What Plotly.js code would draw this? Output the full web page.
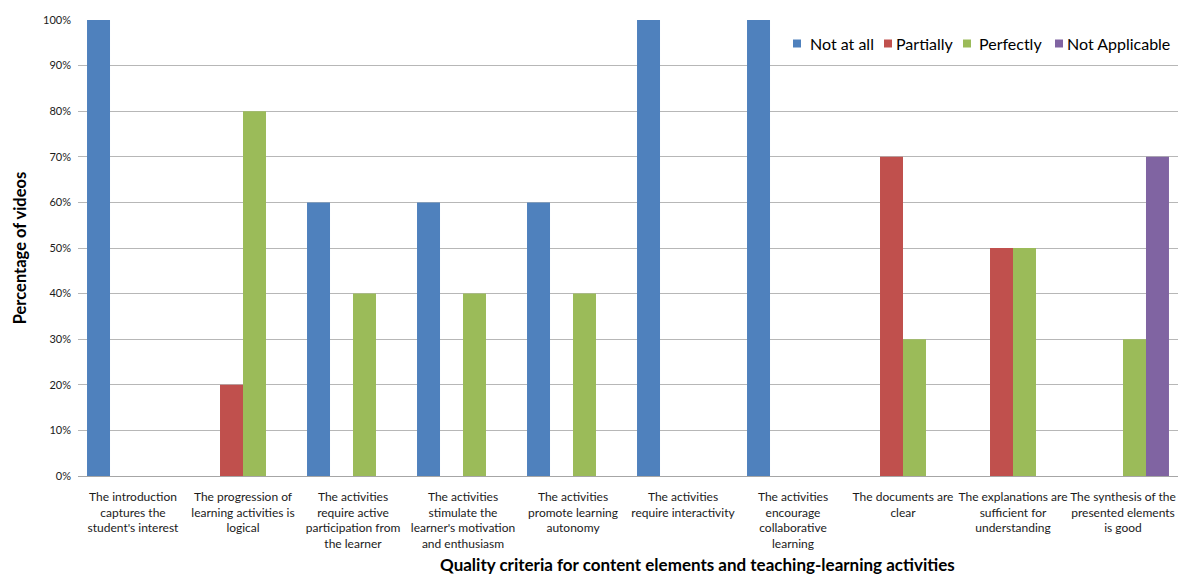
<!DOCTYPE html>
<html>
<head>
<meta charset="utf-8">
<script src="https://cdn.plot.ly/plotly-3.0.1.min.js"></script>
<style>
  html, body { margin: 0; padding: 0; background: #ffffff; }
  #chart { width: 1181px; height: 576px; }
</style>
</head>
<body>
<div id="chart"></div>
<script>
// Quality criteria (x categories, wrapped over several lines)
const criteria = [
  "The introduction<br>captures the<br>student's interest",
  "The progression of<br>learning activities is<br>logical",
  "The activities<br>require active<br>participation from<br>the learner",
  "The activities<br>stimulate the<br>learner's motivation<br>and enthusiasm",
  "The activities<br>promote learning<br>autonomy",
  "The activities<br>require interactivity",
  "The activities<br>encourage<br>collaborative<br>learning",
  "The documents are<br>clear",
  "The explanations are<br>sufficient for<br>understanding",
  "The synthesis of the<br>presented elements<br>is good"
];

// Percentage of videos per rating
const notAtAll      = [100, 0, 60, 60, 60, 100, 100, 0, 0, 0];
const partially     = [0, 20, 0, 0, 0, 0, 0, 70, 50, 0];
const perfectly     = [0, 80, 40, 40, 40, 0, 0, 30, 50, 30];
const notApplicable = [0, 0, 0, 0, 0, 0, 0, 0, 0, 70];

const seriesNames = ["Not at all", "Partially", "Perfectly", "Not Applicable"];
const seriesColors = ["#4F81BD", "#C0504D", "#9BBB59", "#8064A2"];
const seriesValues = [notAtAll, partially, perfectly, notApplicable];

const xTitle = "Quality criteria for content elements and teaching-learning activities";
const yTitle = "Percentage of videos";

const W = 1181, H = 576;
const M = { l: 78, r: 3, t: 20, b: 100 };
const plotW = W - M.l - M.r, plotH = H - M.t - M.b;
// pixel -> paper coordinate helpers for the legend block and x title
const px = v => (v - M.l) / plotW;
const py = v => (H - M.b - v) / plotH;

const traces = seriesValues.map((vals, i) => ({
  type: "bar",
  name: seriesNames[i],
  x: criteria,
  y: vals,
  marker: { color: seriesColors[i], line: { width: 0 } },
  hoverinfo: "x+y+name"
}));

const font = "Lato, 'Open Sans', 'DejaVu Sans', sans-serif";

// Horizontal legend in the top-right corner: small square + label per series
const legendSquareLeft = [793, 884, 963, 1055];
const legendTextLeft   = [808, 894, 977, 1065];
const legendMidY = 43.5, sq = 8;
const shapes = [], annotations = [];
seriesNames.forEach((name, i) => {
  shapes.push({
    type: "rect", xref: "paper", yref: "paper",
    x0: px(legendSquareLeft[i]), x1: px(legendSquareLeft[i] + sq),
    y0: py(legendMidY + sq / 2), y1: py(legendMidY - sq / 2),
    fillcolor: seriesColors[i], line: { width: 0 }
  });
  annotations.push({
    xref: "paper", yref: "paper",
    x: px(legendTextLeft[i]), y: py(legendMidY),
    xanchor: "left", yanchor: "middle",
    text: name, showarrow: false,
    font: { family: font, size: 16, color: "#000000" }
  });
});

// Category-axis title, set slightly right of the plot centre
annotations.push({
  xref: "paper", yref: "paper",
  x: px(697), y: py(564),
  xanchor: "center", yanchor: "middle",
  text: "<b>" + xTitle + "</b>", showarrow: false,
  font: { family: font, size: 17, color: "#000000" }
});

const layout = {
  width: W,
  height: H,
  margin: M,
  paper_bgcolor: "#ffffff",
  plot_bgcolor: "#ffffff",
  font: { family: font, color: "#000000", size: 12 },
  barmode: "group",
  bargap: 0.164,
  bargroupgap: 0,
  showlegend: false,
  shapes: shapes,
  annotations: annotations,
  xaxis: {
    type: "category",
    tickfont: { family: font, size: 12, color: "#1a1a1a" },
    showgrid: false,
    showline: false,
    ticks: "",
    ticklabelstandoff: 12,
    tickangle: 0,
    automargin: false
  },
  yaxis: {
    range: [0, 100],
    dtick: 10,
    ticksuffix: "%",
    tickfont: { family: font, size: 11, color: "#1a1a1a" },
    showgrid: true,
    gridcolor: "#b7b7b7",
    gridwidth: 1,
    zeroline: true,
    zerolinecolor: "#a6a6a6",
    zerolinewidth: 1,
    showline: false,
    ticks: "",
    ticklabelstandoff: 6,
    automargin: false,
    title: {
      text: "<b>" + yTitle + "</b>",
      font: { family: font, size: 16.5, color: "#000000" },
      standoff: 12
    }
  }
};

Plotly.newPlot("chart", traces, layout, { displayModeBar: false, staticPlot: true });
</script>
</body>
</html>
